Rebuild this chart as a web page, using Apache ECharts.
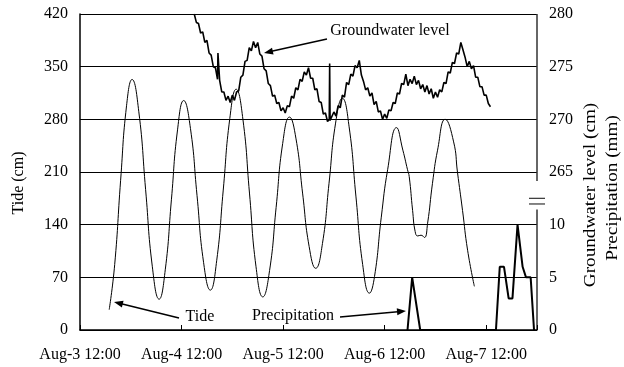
<!DOCTYPE html>
<html><head><meta charset="utf-8">
<script src="https://cdn.jsdelivr.net/npm/echarts@6/dist/echarts.min.js"></script>
<style>html,body{margin:0;padding:0;background:#fff}#c{width:624px;height:367px}</style>
</head><body><div id="c"></div>
<script>
// x = hours since Aug-3 12:00
const xTickHours = [0, 24, 48, 72, 96];
const xTickLabels = ['Aug-3 12:00', 'Aug-4 12:00', 'Aug-5 12:00', 'Aug-6 12:00', 'Aug-7 12:00'];

const tideHours = [6.9, 8.2, 9.6, 11.0, 12.3, 13.9, 15.5, 17.1, 18.7, 20.15, 21.6, 23.05, 24.5, 26.1, 27.65, 29.2, 30.8, 32.3, 33.85, 35.4, 36.9, 38.5, 40.05, 41.6, 43.2, 44.8, 46.35, 47.9, 49.5, 51.05, 52.6, 54.15, 55.7, 57.3, 58.85, 60.4, 62.0, 63.6, 65.2, 66.8, 68.4, 69.6, 71.2, 72.7, 74.8, 76.3, 77.4, 77.8, 78.6, 79.2, 79.8, 80.6, 81.4, 82.15, 83.3, 84.5, 86.3, 88.3, 89.2, 90.4, 91.6, 93.2];
const tideLevel = [27, 87, 199, 298, 333, 290, 187, 84, 41, 80, 173, 266, 305, 268, 179, 90, 53, 92, 186, 281, 320, 280, 182, 84, 44, 79, 163, 248, 283, 254, 182, 111, 82, 115, 195, 275, 308, 270, 178, 87, 49, 71, 150, 213, 269, 239, 213, 204, 159, 131, 125, 126, 123, 142, 195, 239, 280, 250, 210, 159, 106, 58];

const gwHours = [27, 27.5, 28, 28.5, 29, 29.5, 30, 30.5, 31, 31.5, 32, 32.5, 32.6, 33, 33.5, 34, 34.5, 35, 35.5, 36, 36.5, 37, 37.5, 38, 38.5, 39, 39.5, 40, 40.5, 41, 41.5, 42, 42.5, 43, 43.5, 44, 44.5, 45, 45.5, 46, 46.5, 47, 47.5, 48, 48.5, 49, 49.5, 50, 50.5, 51, 51.5, 52, 52.5, 53, 53.5, 54, 54.5, 55, 55.5, 56, 56.5, 57, 57.5, 58, 58.5, 58.9, 59, 59.1, 59.5, 60, 60.5, 61, 61.5, 62, 62.5, 63, 63.5, 64, 64.5, 65, 65.5, 66, 66.5, 67, 67.5, 68, 68.5, 69, 69.5, 70, 70.5, 71, 71.5, 72, 72.5, 73, 73.5, 74, 74.5, 75, 75.5, 76, 76.5, 77, 77.5, 78, 78.5, 79, 79.5, 80, 80.5, 81, 81.5, 82, 82.5, 83, 83.5, 84, 84.5, 85, 85.5, 86, 86.5, 87, 87.5, 88, 88.5, 89, 89.5, 90, 90.5, 91, 91.5, 92, 92.5, 93, 93.5, 94, 94.5, 95, 95.5, 96, 96.5, 97];
const gwLevel = [280.0, 279.2, 279.1, 278.2, 278.3, 277.3, 277.5, 276.3, 276.1, 275.0, 274.9, 273.8, 276.3, 273.7, 272.6, 272.6, 271.8, 272.2, 271.6, 272.3, 271.8, 272.6, 272.7, 274.0, 274.2, 275.5, 275.6, 276.8, 276.5, 277.4, 276.8, 277.3, 276.2, 276.0, 274.8, 274.6, 273.4, 273.2, 272.2, 272.3, 271.5, 271.6, 270.8, 271.1, 270.6, 271.3, 271.2, 272.2, 272.0, 273.0, 272.8, 273.8, 273.6, 274.5, 274.2, 274.9, 273.9, 273.9, 272.8, 272.9, 271.7, 271.6, 270.5, 270.6, 269.8, 270.0, 275.3, 269.9, 269.8, 270.7, 270.3, 271.3, 271.1, 272.3, 272.1, 273.5, 273.3, 274.3, 274.1, 275.1, 274.9, 275.6, 274.2, 273.6, 272.8, 273.0, 272.2, 272.5, 271.4, 271.7, 270.7, 270.8, 270.0, 270.5, 270.1, 270.9, 270.8, 271.6, 271.5, 272.5, 272.4, 273.4, 273.3, 274.3, 273.2, 273.8, 273.4, 274.1, 273.3, 273.7, 272.9, 273.3, 272.6, 273.2, 272.4, 272.9, 272.0, 272.6, 272.1, 272.8, 272.6, 273.5, 273.4, 274.5, 274.4, 275.4, 275.3, 276.3, 276.2, 277.3, 276.6, 275.9, 275.0, 275.5, 274.8, 275.1, 274.0, 274.0, 273.1, 273.1, 272.3, 272.3, 271.5, 271.2];

const precipHours = [77.4, 78.5, 80.4, 98.3, 99.2, 100.2, 101.3, 102.2, 103.4, 104.6, 105.4, 106.5, 107.3];
const precipMm = [0, 5, 0, 0, 6, 6, 3, 3, 10, 6, 5, 5, 0];

const tideTicks = [0, 70, 140, 210, 280, 350, 420];
const gwTickLabels = [265, 270, 275, 280];
const precipTickLabels = [0, 5, 10];

const FONT = 'Liberation Serif';
const pair = (xs, ys) => xs.map((x, i) => [x, ys[i]]);
const chart = echarts.init(document.getElementById('c'), null, { renderer: 'canvas' });
const lbl = { color: '#000', fontFamily: FONT, fontSize: 16 };

chart.setOption({
  animation: false,
  grid: { left: 80, right: 87, top: 14, bottom: 37, outerBoundsMode: 'none' },
  xAxis: {
    type: 'value', min: 0, max: 108, interval: 24,
    axisLine: { lineStyle: { color: '#000', width: 1.5 } },
    axisTick: { inside: true, length: 5, lineStyle: { color: '#000' } },
    splitLine: { show: false },
    axisLabel: Object.assign({ margin: 17, formatter: v => { const i = xTickHours.indexOf(v); return i >= 0 ? xTickLabels[i] : ''; } }, lbl)
  },
  yAxis: [
    { type: 'value', min: 0, max: 420, interval: 70, position: 'left',
      axisLine: { show: true, lineStyle: { color: '#000', width: 1.5 } },
      axisTick: { show: false },
      splitLine: { lineStyle: { color: '#000', width: 1 } },
      axisLabel: Object.assign({ margin: 12, formatter: v => tideTicks.includes(v) ? String(v) : '' }, lbl) },
    { type: 'value', min: 250, max: 280, interval: 5, position: 'right',
      axisLine: { show: false }, axisTick: { show: false }, splitLine: { show: false },
      axisLabel: Object.assign({ margin: 12, formatter: v => gwTickLabels.includes(v) ? String(v) : '' }, lbl) },
    { type: 'value', min: 0, max: 30, interval: 5, position: 'right',
      axisLine: { show: false }, axisTick: { show: false }, splitLine: { show: false },
      axisLabel: Object.assign({ margin: 12, formatter: v => precipTickLabels.includes(v) ? String(v) : '' }, lbl) }
  ],
  series: [
    { type: 'line', name: 'Tide', yAxisIndex: 0, data: pair(tideHours, tideLevel), smooth: 0.5, showSymbol: false,
      lineStyle: { color: '#000', width: 1 } },
    { type: 'line', name: 'Groundwater level', yAxisIndex: 1, data: pair(gwHours, gwLevel), showSymbol: false,
      lineStyle: { color: '#000', width: 1.6 } },
    { type: 'line', name: 'Precipitation', yAxisIndex: 2, data: pair(precipHours, precipMm), showSymbol: false,
      lineStyle: { color: '#000', width: 2 } }
  ]
});

// decorations: right axis line with break, titles, annotations
const px = h => chart.convertToPixel({ xAxisIndex: 0 }, h);
const py = v => chart.convertToPixel({ yAxisIndex: 0 }, v);
const xR = px(108);
function arrow(x1, y1, x2, y2) {
  const dx = x2 - x1, dy = y2 - y1, L = Math.hypot(dx, dy);
  const ux = dx / L, uy = dy / L, nx = -uy, ny = ux, hl = 9, hw = 3.5;
  return [
    { type: 'line', shape: { x1, y1, x2: x2 - ux * hl * 0.6, y2: y2 - uy * hl * 0.6 }, style: { stroke: '#000', lineWidth: 1.5 } },
    { type: 'polygon', shape: { points: [[x2, y2], [x2 - ux * hl + nx * hw, y2 - uy * hl + ny * hw], [x2 - ux * hl - nx * hw, y2 - uy * hl - ny * hw]] }, style: { fill: '#000' } }
  ];
}
const txt = (text, x, y, extra) => Object.assign({ type: 'text', x, y, style: { text, font: '16px "Liberation Serif"', fill: '#000', textAlign: 'center', textVerticalAlign: 'middle' } }, extra || {});
const els = [
  { type: 'line', shape: { x1: xR, y1: py(420), x2: xR, y2: py(198) }, style: { stroke: '#333', lineWidth: 1.5 } },
  { type: 'line', shape: { x1: xR, y1: py(160), x2: xR, y2: py(0) }, style: { stroke: '#333', lineWidth: 1.5 } },
  { type: 'line', shape: { x1: xR - 8, y1: py(175), x2: xR + 8, y2: py(175) }, style: { stroke: '#333', lineWidth: 1.2 } },
  { type: 'line', shape: { x1: xR - 8, y1: py(167.5), x2: xR + 8, y2: py(167.5) }, style: { stroke: '#333', lineWidth: 1.2 } },
  txt('Tide (cm)', 19, 183, { rotation: Math.PI / 2 }),
  txt('Groundwater level (cm)', 591, 195, { rotation: Math.PI / 2, scaleX: 1.2 }),
  txt('Precipitation (mm)', 613, 188, { rotation: Math.PI / 2, scaleX: 1.2 }),
  txt('Groundwater level', 390, 31),
  txt('Tide', 200, 317),
  txt('Precipitation', 293, 316)
].concat(arrow(327, 39, 264, 53), arrow(179, 318, 114, 302), arrow(340, 317, 406, 311));
chart.setOption({ graphic: { elements: els } });
</script>
</body></html>
